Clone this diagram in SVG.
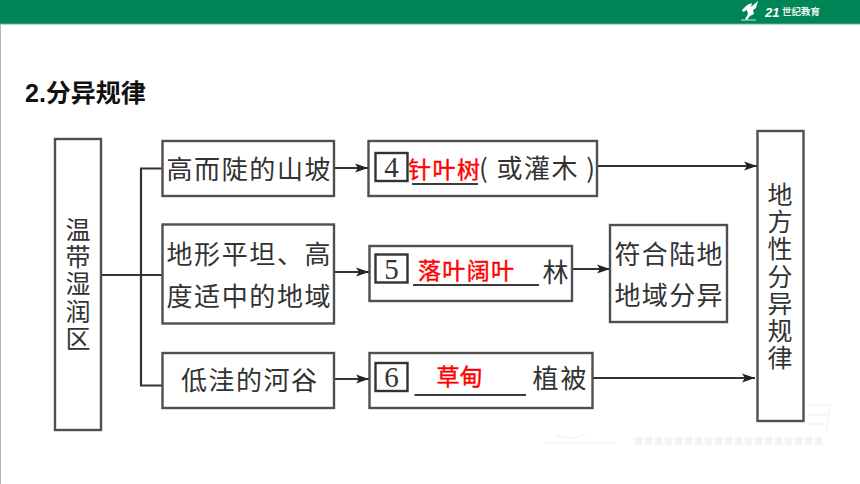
<svg xmlns="http://www.w3.org/2000/svg" width="860" height="484" viewBox="0 0 860 484">
<style>
.box{fill:#fff;stroke:#4f4f4f;stroke-width:2.400}
.num{fill:#fff;stroke:#333;stroke-width:2.400}
.wire{fill:none;stroke:#333;stroke-width:2.200}
.ul{fill:none;stroke:#3c3c3c;stroke-width:2.200}
.t{font-family:"Noto Sans CJK SC",sans-serif;font-size:26px;font-weight:400;fill:#333;text-anchor:middle}
.v{font-family:"Noto Sans CJK SC",sans-serif;font-size:25px;font-weight:400;fill:#333;writing-mode:vertical-rl;letter-spacing:2.200px}
.n{font-family:"Liberation Serif",serif;font-size:29px;fill:#333;text-anchor:middle}
.r{font-family:"Noto Sans CJK SC",sans-serif;font-size:23px;font-weight:400;fill:#f00;stroke:#f00;stroke-width:.4;text-anchor:middle}
.wm{fill:none;stroke:#f6f6f6;stroke-width:2}
</style>
<defs>
<marker id="ah" markerUnits="userSpaceOnUse" markerWidth="14" markerHeight="12" refX="13" refY="6" orient="auto"><path d="M0 1.500 L13 6 L0 10.500 L3 6 Z" fill="#222"/></marker>
</defs>
<rect width="860" height="484" fill="#fff"/>
<g id="header">
<rect x="0" y="0" width="860" height="24" fill="#008556"/>
<rect x="0" y="23.500" width="860" height="1" fill="#5fb592"/>
<rect x="0" y="24" width="1" height="460" fill="#b5b5b5"/>
<path d="M747 5 L752 3 L751 7 L758 1 L756 8 L753 10 L754 14 L750 16 L747 20 L745 19 L748 14 L747 10 L743 12 L742 10 Z" fill="#fff"/>
<path d="M741 20 H756" stroke="#cfe8dc" stroke-width="1"/>
<text x="765" y="16.500" font-family="'Liberation Sans',sans-serif" font-size="13" font-weight="700" font-style="italic" fill="#fff">21</text>
<text x="782" y="15" font-family="'Noto Sans CJK SC',sans-serif" font-size="9.500" font-weight="700" fill="#e8f5ef">世纪教育</text>
</g>
<g id="watermark">
<path class="wm" d="M545 443 H615 M555 435 Q570 441 585 435 M805 405 H830 L827 432 M808 415 H828 M808 424 H826"/>
<path d="M635 441 H825" stroke="#f4f4f4" stroke-width="8" stroke-dasharray="7 3" fill="none"/>
</g>
<text id="title" x="25" y="102" font-family="'Liberation Sans','Noto Sans CJK SC',sans-serif" font-size="25" font-weight="700" fill="#111">2.分异规律</text>
<g id="connectors">
<path class="wire" d="M101 275 H162 M162 168.500 H141 V385.500 H162"/>
<path class="wire" d="M334 168 H368" marker-end="url(#ah)"/>
<path class="wire" d="M334 272 H369" marker-end="url(#ah)"/>
<path class="wire" d="M334 379 H369" marker-end="url(#ah)"/>
<path class="wire" d="M597 166 H757" marker-end="url(#ah)"/>
<path class="wire" d="M572 269 H610" marker-end="url(#ah)"/>
<path class="wire" d="M592 378 H755" marker-end="url(#ah)"/>
</g>
<g id="node-wendai">
<rect class="box" x="55" y="139" width="46" height="291"/>
<text class="v" x="78" y="217">温带湿润区</text>
</g>
<g id="node-steep">
<rect class="box" x="162.500" y="141" width="171.500" height="55"/>
<text class="t" x="248.500" y="179" textLength="164" lengthAdjust="spacing">高而陡的山坡</text>
</g>
<g id="node-flat">
<rect class="box" x="162.500" y="224.500" width="171.500" height="99"/>
<text class="t" x="248.500" y="264" textLength="164" lengthAdjust="spacing">地形平坦、高</text>
<text class="t" x="248.500" y="306" textLength="164" lengthAdjust="spacing">度适中的地域</text>
</g>
<g id="node-valley">
<rect class="box" x="162.500" y="353" width="171.500" height="55"/>
<text class="t" x="249" y="390" textLength="136" lengthAdjust="spacing">低洼的河谷</text>
</g>
<g id="node-4">
<rect class="box" x="368.500" y="141" width="228.500" height="55"/>
<rect class="num" x="375.500" y="153" width="32" height="28"/>
<text class="n" x="391.500" y="177">4</text>
<path class="ul" d="M412 184 H478"/>
<text class="r" x="444" y="178" textLength="72" lengthAdjust="spacing">针叶树</text>
<text class="t" x="537" y="178" textLength="116" lengthAdjust="spacing">( 或灌木 )</text>
</g>
<g id="node-5">
<rect class="box" x="369.500" y="246" width="202.500" height="55"/>
<rect class="num" x="375.500" y="254.500" width="32" height="28"/>
<text class="n" x="391.500" y="278.500">5</text>
<path class="ul" d="M413 285 H539"/>
<text class="r" x="466" y="279" textLength="96" lengthAdjust="spacing">落叶阔叶</text>
<text class="t" x="555.500" y="282">林</text>
</g>
<g id="node-6">
<rect class="box" x="369.500" y="353" width="223" height="55"/>
<rect class="num" x="375.500" y="363" width="32" height="28"/>
<text class="n" x="391.500" y="387">6</text>
<path class="ul" d="M414.500 395 H526"/>
<text class="r" x="459.500" y="385" textLength="46" lengthAdjust="spacing">草甸</text>
<text class="t" x="559.500" y="388" textLength="54" lengthAdjust="spacing">植被</text>
</g>
<g id="node-fit">
<rect class="box" x="610" y="225" width="117" height="97"/>
<text class="t" x="668.500" y="264" textLength="108" lengthAdjust="spacing">符合陆地</text>
<text class="t" x="668.500" y="305" textLength="108" lengthAdjust="spacing">地域分异</text>
</g>
<g id="node-law">
<rect class="box" x="757.500" y="131" width="46" height="290"/>
<text class="v" x="780" y="182">地方性分异规律</text>
</g>
</svg>
